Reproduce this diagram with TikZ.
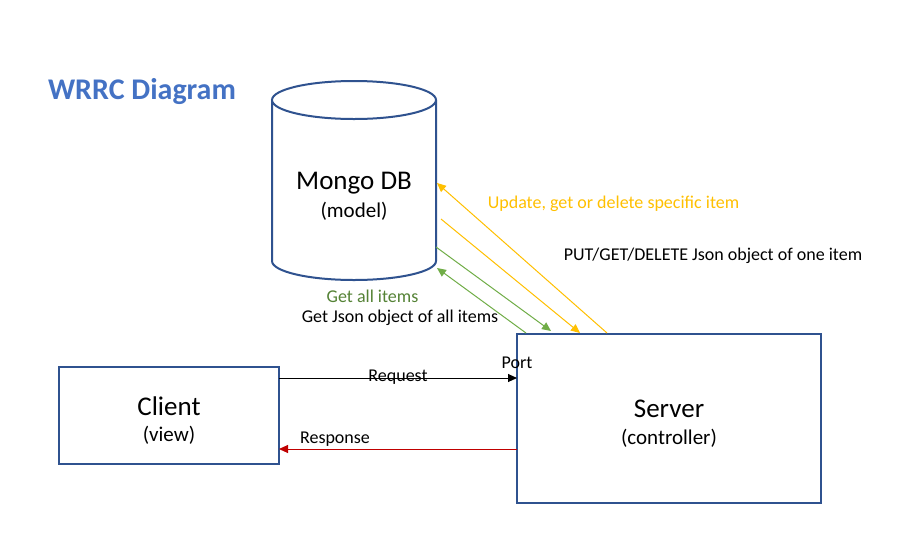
\documentclass[tikz,border=0pt]{standalone}
\usepackage{fontspec}
\setmainfont{Carlito}
\usetikzlibrary{arrows.meta}
\definecolor{boxblue}{HTML}{2F528F}
\definecolor{titleblue}{HTML}{4472C4}
\definecolor{oyellow}{HTML}{FFC000}
\definecolor{ogreen}{HTML}{70AD47}
\definecolor{tgreen}{HTML}{548235}
\definecolor{ored}{HTML}{C00000}
\tikzset{
  boxstyle/.style={draw=boxblue, line width=2pt, fill=white, inner sep=0pt},
  lbl/.style={font=\fontsize{18}{20}\selectfont, inner sep=0pt},
  big/.style={font=\fontsize{27}{31}\selectfont, inner sep=0pt},
  mid/.style={font=\fontsize{21}{25}\selectfont, inner sep=0pt},
  conn/.style={line width=1pt, -{Triangle[length=9pt,width=8pt]}},
}
\begin{document}
\begin{tikzpicture}[x=1pt,y=-1pt]
\useasboundingbox (0,0) rectangle (910,542);
\fill[white] (0,0) rectangle (910,542);
% title
\node[font=\fontsize{30}{34}\selectfont\bfseries, text=titleblue, inner sep=0pt] (title) at (142,92) {WRRC Diagram};
% cylinder
\filldraw[draw=boxblue, line width=2pt, fill=white] (272,100) -- (272,261) arc[start angle=180, end angle=360, x radius=82, y radius=-19] -- (436,100);
\filldraw[draw=boxblue, line width=2pt, fill=white] (354,100) ellipse[x radius=82, y radius=19];
\node[big] (dbt) at (354,183) {Mongo DB};
\node[mid] (dbs) at (354,211) {(model)};
% boxes
\node[boxstyle, minimum width=220pt, minimum height=97pt] (client) at (169,415.5) {};
\node[big] (clientt) at (169,406) {Client};
\node[mid] (clients) at (169,435) {(view)};
\node[boxstyle, minimum width=304pt, minimum height=169pt] (server) at (669,418.5) {};
\node[big] (servert) at (669,409) {Server};
\node[mid] (servers) at (669,438) {(controller)};
% endpoints
\coordinate (dbY1) at (437,183);
\coordinate (dbY2) at (441,219);
\coordinate (dbG1) at (436,247);
\coordinate (dbG2) at (437,268);
\coordinate (svY1) at (607,333);
\coordinate (svY2) at (580,333);
\coordinate (svG1) at (551,331);
\coordinate (svG2) at (526,333);
\coordinate (clR1) at (279,378);
\coordinate (svR1) at (517,378);
\coordinate (svR2) at (517,449);
\coordinate (clR2) at (279,449);
% connectors
\draw[conn, oyellow] (svY1) -- (dbY1);
\draw[conn, oyellow] (dbY2) -- (svY2);
\draw[conn, ogreen] (dbG1) -- (svG1);
\draw[conn, ogreen] (svG2) -- (dbG2);
\draw[conn, black] (clR1) -- (svR1);
\draw[conn, ored] (svR2) -- (clR2);
% labels
\node[lbl, text=oyellow] (l1) at (613.5,204) {Update, get or delete specific item};
\node[lbl] (l2) at (713,256) {PUT/GET/DELETE Json object of one item};
\node[lbl, text=tgreen] (l3) at (372.5,296) {Get all items};
\node[lbl] (l4) at (400,318) {Get Json object of all items};
\node[lbl] (l5) at (398,377) {Request};
\node[lbl] (l6) at (517,363) {Port};
\node[lbl] (l7) at (335,439) {Response};
\end{tikzpicture}
\end{document}
